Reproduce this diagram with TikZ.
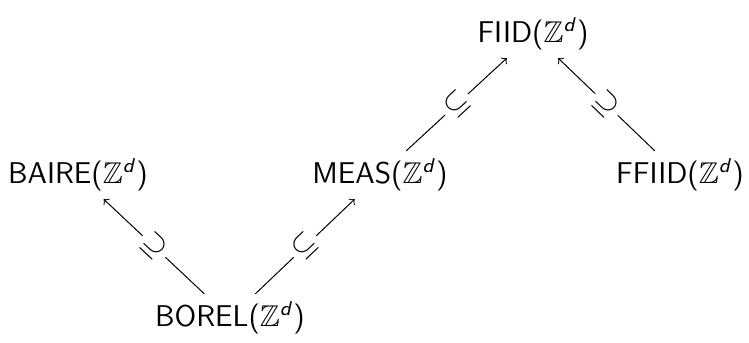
\documentclass[tikz,border=0pt]{standalone}
\usepackage{amsmath,amssymb}
\newcommand{\Zd}{$\mathbb{Z}^{\textsf{\textit{d}}}$}
\begin{document}
\begin{tikzpicture}[x=0.4pt,y=-0.4pt,
  lbl/.style={font=\fontsize{12}{14}\selectfont\sffamily, inner sep=3pt},
  arr/.style={->, line width=0.4pt},
  sub/.style={sloped, fill=white, inner sep=1.5pt, font=\fontsize{12}{14}\selectfont}]
\useasboundingbox (0,0) rectangle (749,342);
\node[lbl] (fiid)  at (533,34)  {FIID(\Zd)};
\node[lbl] (baire) at (78,175)  {BAIRE(\Zd)};
\node[lbl] (meas)  at (380,175) {MEAS(\Zd)};
\node[lbl] (ffiid) at (680,175) {FFIID(\Zd)};
\node[lbl] (borel) at (230,318) {BOREL(\Zd)};
\draw[arr] (borel) -- node[sub] {$\supseteq$} (baire);
\draw[arr] (borel) -- node[sub] {$\subseteq$} (meas);
\draw[arr] (meas) -- node[sub] {$\subseteq$} (fiid);
\draw[arr] (ffiid) -- node[sub] {$\supseteq$} (fiid);
\end{tikzpicture}
\end{document}
